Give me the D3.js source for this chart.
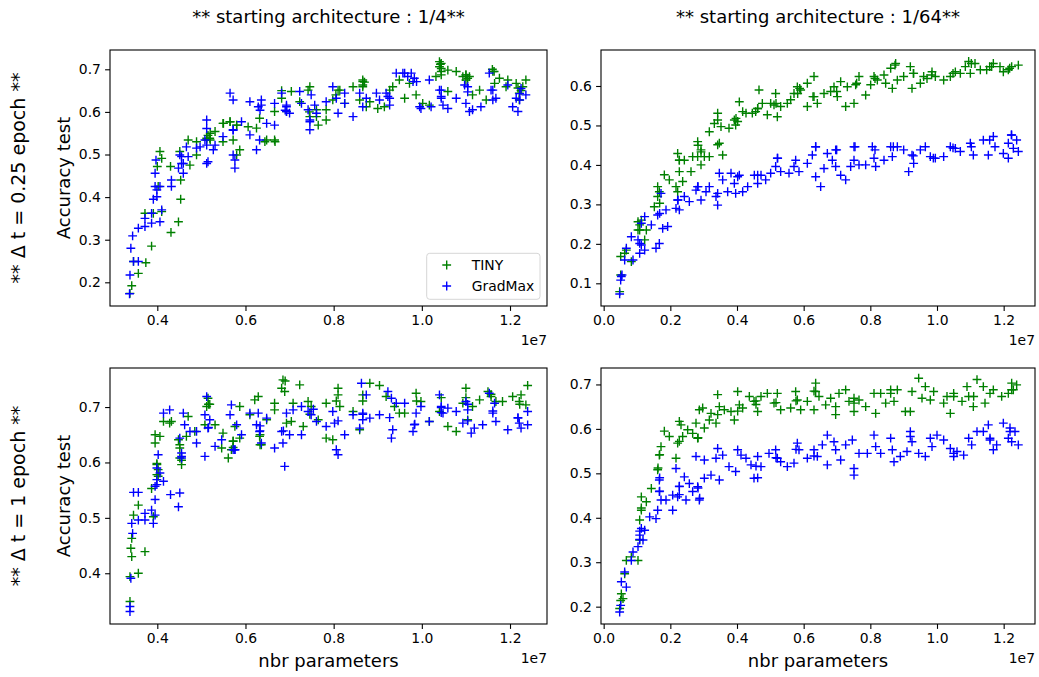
<!DOCTYPE html>
<html lang="en">
<head>
<meta charset="UTF-8">
<title>TINY vs GradMax</title>
<script src="https://cdnjs.cloudflare.com/ajax/libs/d3/7.8.5/d3.min.js"></script>
<style>
  body { margin: 0; background: #fff; }
  text { font-family: "DejaVu Sans", sans-serif; fill: #000; }
  .tick text { font-size: 13.9px; }
  .tick line { stroke: #000; stroke-width: 1.1px; }
  .domain { display: none; }
  .frame { fill: none; stroke: #000; stroke-width: 1.1px; }
  .plus { fill: none; stroke-width: 1.4px; }
</style>
</head>
<body>
<svg id="fig" width="1039" height="677"></svg>
<script>
// x = nbr parameters in units of 1e7, y = accuracy test

// starting architecture 1/4, dt = 0.25 epoch
const tinyQuarterFast = [
  [0.338,0.174],[0.342,0.192],[0.346,0.249],[0.357,0.221],[0.374,0.246],[0.387,0.285],[0.372,0.362],[0.391,0.362],
  [0.41,0.366],[0.402,0.425],[0.406,0.507],[0.41,0.491],[0.4,0.472],[0.43,0.472],[0.431,0.317],[0.448,0.342],
  [0.453,0.395],[0.453,0.44],[0.451,0.507],[0.47,0.534],[0.489,0.53],[0.489,0.499],[0.474,0.475],[0.512,0.534],
  [0.519,0.538],[0.531,0.554],[0.549,0.573],[0.549,0.53],[0.565,0.577],[0.572,0.534],[0.58,0.569],[0.587,0.511],
  [0.58,0.499],[0.606,0.565],[0.625,0.562],[0.632,0.585],[0.648,0.534],[0.666,0.534],[0.666,0.601],[0.682,0.632],
  [0.693,0.601],[0.704,0.648],[0.723,0.624],[0.742,0.651],[0.746,0.589],[0.765,0.569],[0.761,0.605],[0.783,0.581],
  [0.783,0.605],[0.798,0.628],[0.814,0.651],[0.825,0.62],[0.844,0.659],[0.866,0.675],[0.866,0.663],[0.859,0.628],
  [0.874,0.612],[0.882,0.624],[0.9,0.608],[0.915,0.612],[0.927,0.651],[0.934,0.659],[0.949,0.675],[0.961,0.632],
  [0.972,0.667],[0.987,0.64],[1.002,0.62],[1.017,0.616],[1.032,0.683],[1.04,0.718],[1.04,0.706],[1.044,0.695],
  [1.059,0.698],[1.059,0.648],[1.078,0.695],[1.093,0.683],[1.1,0.687],[1.108,0.683],[1.115,0.64],[1.131,0.651],
  [1.146,0.628],[1.161,0.695],[1.165,0.667],[1.176,0.679],[1.191,0.659],[1.195,0.675],[1.214,0.667],[1.221,0.644],
  [1.221,0.628],[1.236,0.675],[1.229,0.659],[0.515,0.545],[0.52,0.55],[0.87,0.67],[1.042,0.712],[1.1,0.675],
  [1.16,0.7],[1.225,0.65],[0.745,0.6],[0.805,0.64],
  [0.52,0.534],[0.512,0.538],[0.55,0.573],[0.565,0.577],[0.58,0.569],[0.644,0.53],[0.667,0.53],[0.746,0.659],
  [0.761,0.589],[0.682,0.65],[1.044,0.714],[1.044,0.702],[1.044,0.687],[1.1,0.687],[1.104,0.679],[1.164,0.695],
  [0.866,0.671],[0.866,0.659],[0.81,0.651],[1.218,0.656]
];
const gradmaxQuarterFast = [
  [0.337,0.173],[0.338,0.217],[0.34,0.28],[0.344,0.309],[0.346,0.249],[0.357,0.327],[0.357,0.249],[0.372,0.331],
  [0.372,0.35],[0.387,0.339],[0.387,0.362],[0.391,0.395],[0.395,0.425],[0.395,0.456],[0.397,0.487],[0.406,0.425],
  [0.406,0.342],[0.41,0.37],[0.432,0.425],[0.432,0.44],[0.448,0.468],[0.451,0.499],[0.455,0.479],[0.459,0.456],
  [0.466,0.518],[0.47,0.495],[0.489,0.515],[0.497,0.518],[0.508,0.534],[0.512,0.561],[0.512,0.581],[0.512,0.479],
  [0.515,0.483],[0.527,0.511],[0.531,0.522],[0.549,0.542],[0.565,0.644],[0.572,0.628],[0.572,0.558],[0.572,0.499],
  [0.576,0.468],[0.576,0.487],[0.591,0.577],[0.61,0.624],[0.61,0.546],[0.625,0.511],[0.629,0.612],[0.632,0.534],
  [0.636,0.628],[0.648,0.573],[0.666,0.62],[0.666,0.569],[0.682,0.644],[0.693,0.612],[0.693,0.601],[0.7,0.597],
  [0.723,0.648],[0.727,0.62],[0.742,0.605],[0.746,0.577],[0.746,0.558],[0.749,0.64],[0.757,0.616],[0.761,0.597],
  [0.783,0.624],[0.798,0.659],[0.806,0.632],[0.81,0.597],[0.825,0.62],[0.825,0.644],[0.844,0.589],[0.859,0.644],
  [0.866,0.612],[0.874,0.632],[0.897,0.644],[0.904,0.628],[0.919,0.644],[0.927,0.632],[0.927,0.616],[0.942,0.691],
  [0.957,0.691],[0.968,0.683],[0.976,0.691],[0.98,0.671],[0.983,0.679],[0.995,0.612],[0.998,0.608],[1.017,0.675],
  [1.021,0.612],[1.04,0.651],[1.044,0.632],[1.048,0.616],[1.059,0.608],[1.078,0.632],[1.097,0.663],[1.1,0.62],
  [1.108,0.601],[1.115,0.605],[1.134,0.612],[1.153,0.691],[1.161,0.651],[1.161,0.628],[1.168,0.632],[1.195,0.663],
  [1.206,0.612],[1.214,0.632],[1.218,0.601],[1.225,0.655],[1.236,0.64],
  [0.633,0.604],[0.636,0.616],[0.693,0.616],[0.69,0.604],[0.746,0.581],[0.455,0.495],[0.459,0.479],[0.512,0.522],
  [0.572,0.557],[0.399,0.417],[0.399,0.401],[0.961,0.691],[0.988,0.671],[1.044,0.651],[1.044,0.636],[1.104,0.659],
  [1.104,0.647],[1.157,0.651],[1.222,0.643],[1.222,0.628],[0.923,0.636]
];

// starting architecture 1/64, dt = 0.25 epoch
const tinySixtyFourFast = [
  [0.048,0.079],[0.051,0.121],[0.051,0.168],[0.063,0.176],[0.068,0.184],[0.083,0.155],[0.103,0.235],[0.103,0.256],
  [0.108,0.248],[0.113,0.26],[0.123,0.21],[0.128,0.235],[0.152,0.294],[0.162,0.345],[0.162,0.32],[0.167,0.332],
  [0.182,0.375],[0.197,0.362],[0.217,0.345],[0.222,0.332],[0.227,0.383],[0.222,0.429],[0.227,0.412],[0.242,0.412],
  [0.237,0.358],[0.262,0.383],[0.267,0.421],[0.282,0.459],[0.282,0.421],[0.292,0.438],[0.292,0.4],[0.302,0.421],
  [0.317,0.421],[0.317,0.484],[0.332,0.505],[0.342,0.531],[0.342,0.451],[0.347,0.455],[0.352,0.497],[0.357,0.425],
  [0.376,0.493],[0.392,0.514],[0.396,0.501],[0.407,0.56],[0.417,0.535],[0.427,0.531],[0.446,0.531],[0.456,0.535],
  [0.462,0.543],[0.466,0.59],[0.476,0.556],[0.491,0.527],[0.501,0.556],[0.511,0.552],[0.516,0.581],[0.521,0.522],
  [0.531,0.548],[0.551,0.556],[0.561,0.565],[0.571,0.581],[0.581,0.598],[0.591,0.59],[0.611,0.548],[0.611,0.607],
  [0.631,0.624],[0.631,0.573],[0.641,0.556],[0.661,0.581],[0.681,0.586],[0.691,0.598],[0.701,0.573],[0.711,0.611],
  [0.726,0.548],[0.731,0.598],[0.751,0.556],[0.756,0.603],[0.766,0.624],[0.786,0.577],[0.801,0.603],[0.811,0.624],
  [0.821,0.615],[0.841,0.628],[0.846,0.607],[0.861,0.645],[0.866,0.594],[0.876,0.657],[0.881,0.615],[0.9,0.624],
  [0.92,0.649],[0.925,0.594],[0.93,0.632],[0.95,0.607],[0.96,0.624],[0.97,0.619],[0.985,0.636],[0.995,0.624],
  [1.02,0.615],[1.04,0.624],[1.055,0.636],[1.07,0.632],[1.085,0.649],[1.095,0.662],[1.1,0.632],[1.114,0.657],
  [1.13,0.641],[1.149,0.641],[1.164,0.649],[1.169,0.657],[1.189,0.649],[1.199,0.636],[1.214,0.641],[1.224,0.649],
  [1.244,0.653],
  [0.582,0.581],[0.588,0.594],[0.628,0.573],[0.517,0.556],[0.462,0.543],[0.397,0.518],[0.402,0.51],[0.342,0.514],
  [0.283,0.45],[0.292,0.433],[0.227,0.412],[0.168,0.303],[0.108,0.235],[0.699,0.586],[0.759,0.607],[0.814,0.619],
  [0.874,0.653],[0.929,0.632],[0.984,0.628],[1.048,0.632],[1.103,0.657],[1.158,0.649],[1.218,0.645]
];
const gradmaxSixtyFourFast = [
  [0.048,0.073],[0.051,0.108],[0.055,0.121],[0.068,0.189],[0.063,0.159],[0.083,0.218],[0.088,0.159],[0.103,0.21],
  [0.108,0.176],[0.113,0.197],[0.123,0.269],[0.123,0.184],[0.143,0.248],[0.157,0.189],[0.167,0.201],[0.162,0.273],
  [0.172,0.328],[0.177,0.239],[0.187,0.286],[0.192,0.244],[0.217,0.29],[0.222,0.311],[0.227,0.286],[0.242,0.32],
  [0.257,0.307],[0.277,0.336],[0.282,0.345],[0.292,0.311],[0.307,0.332],[0.317,0.345],[0.337,0.32],[0.342,0.298],
  [0.347,0.379],[0.357,0.362],[0.372,0.332],[0.382,0.379],[0.392,0.353],[0.396,0.328],[0.407,0.374],[0.417,0.332],
  [0.432,0.345],[0.452,0.374],[0.462,0.353],[0.472,0.374],[0.486,0.362],[0.501,0.379],[0.516,0.396],[0.521,0.417],
  [0.531,0.383],[0.556,0.379],[0.571,0.396],[0.576,0.412],[0.586,0.383],[0.611,0.404],[0.626,0.425],[0.636,0.446],
  [0.636,0.37],[0.651,0.345],[0.661,0.391],[0.671,0.429],[0.686,0.412],[0.696,0.438],[0.696,0.396],[0.711,0.374],
  [0.726,0.362],[0.741,0.396],[0.751,0.446],[0.751,0.412],[0.766,0.4],[0.786,0.4],[0.806,0.446],[0.811,0.417],
  [0.816,0.396],[0.841,0.412],[0.861,0.446],[0.866,0.421],[0.881,0.446],[0.9,0.438],[0.915,0.383],[0.925,0.425],
  [0.93,0.404],[0.95,0.438],[0.965,0.446],[0.98,0.421],[0.995,0.417],[1.02,0.421],[1.04,0.446],[1.055,0.442],
  [1.07,0.434],[1.1,0.455],[1.109,0.425],[1.139,0.463],[1.154,0.425],[1.169,0.472],[1.174,0.446],[1.199,0.429],
  [1.214,0.455],[1.214,0.417],[1.224,0.476],[1.229,0.442],[1.239,0.463],[1.244,0.434],
  [0.636,0.446],[0.522,0.417],[0.462,0.374],[0.402,0.37],[0.342,0.328],[0.283,0.345],[0.223,0.311],[0.168,0.277],
  [0.113,0.252],[0.108,0.201],[0.053,0.117],[0.699,0.438],[0.754,0.446],[0.814,0.438],[0.869,0.446],[0.929,0.423],
  [0.989,0.417],[1.048,0.443],[1.103,0.446],[1.158,0.463],[1.223,0.476]
];

// starting architecture 1/4, dt = 1 epoch
const tinyQuarterSlow = [
  [0.338,0.349],[0.338,0.394],[0.342,0.43],[0.34,0.445],[0.342,0.463],[0.346,0.505],[0.357,0.523],[0.357,0.4],
  [0.372,0.439],[0.387,0.553],[0.391,0.502],[0.395,0.635],[0.395,0.65],[0.399,0.598],[0.402,0.587],[0.402,0.575],
  [0.406,0.647],[0.414,0.674],[0.432,0.674],[0.428,0.671],[0.448,0.641],[0.451,0.626],[0.455,0.604],[0.455,0.596],
  [0.466,0.647],[0.47,0.683],[0.485,0.656],[0.508,0.668],[0.512,0.701],[0.515,0.716],[0.519,0.705],[0.531,0.668],
  [0.546,0.626],[0.549,0.653],[0.561,0.608],[0.568,0.623],[0.572,0.638],[0.576,0.665],[0.587,0.701],[0.587,0.644],
  [0.61,0.686],[0.621,0.713],[0.629,0.719],[0.636,0.632],[0.632,0.647],[0.648,0.677],[0.666,0.707],[0.666,0.695],
  [0.682,0.734],[0.685,0.749],[0.689,0.728],[0.693,0.671],[0.704,0.674],[0.708,0.707],[0.723,0.74],[0.731,0.665],
  [0.742,0.71],[0.749,0.701],[0.765,0.677],[0.783,0.707],[0.783,0.644],[0.798,0.641],[0.81,0.734],[0.81,0.722],
  [0.814,0.701],[0.844,0.692],[0.859,0.659],[0.866,0.722],[0.882,0.743],[0.904,0.739],[0.919,0.719],[0.938,0.701],
  [0.949,0.689],[0.961,0.689],[0.987,0.725],[0.998,0.71],[1.017,0.674],[1.04,0.692],[1.059,0.665],[1.078,0.656],
  [1.093,0.707],[1.1,0.734],[1.104,0.677],[1.115,0.701],[1.131,0.713],[1.15,0.728],[1.157,0.719],[1.168,0.71],
  [1.183,0.71],[1.206,0.719],[1.221,0.71],[1.225,0.722],[1.236,0.704],[1.24,0.739],
  [0.399,0.578],[0.399,0.596],[0.451,0.632],[0.451,0.608],[0.572,0.639],[0.572,0.627],[0.633,0.65],[0.633,0.632],
  [0.516,0.705],[0.746,0.687],[0.69,0.747],[1.044,0.717],[1.1,0.717],[1.157,0.723],[1.222,0.705],[0.988,0.711],
  [0.866,0.711],[0.806,0.711]
];
const gradmaxQuarterSlow = [
  [0.338,0.331],[0.338,0.34],[0.34,0.391],[0.342,0.49],[0.344,0.472],[0.346,0.546],[0.357,0.546],[0.357,0.496],
  [0.372,0.496],[0.372,0.508],[0.387,0.514],[0.391,0.49],[0.395,0.505],[0.395,0.533],[0.395,0.557],[0.399,0.569],
  [0.399,0.59],[0.402,0.614],[0.406,0.581],[0.414,0.566],[0.414,0.689],[0.428,0.695],[0.43,0.542],[0.448,0.52],
  [0.451,0.545],[0.451,0.644],[0.455,0.611],[0.459,0.689],[0.462,0.668],[0.474,0.656],[0.489,0.635],[0.489,0.656],
  [0.508,0.686],[0.508,0.611],[0.512,0.719],[0.515,0.662],[0.519,0.677],[0.531,0.629],[0.546,0.641],[0.565,0.686],
  [0.568,0.704],[0.572,0.623],[0.576,0.623],[0.58,0.668],[0.591,0.65],[0.61,0.689],[0.625,0.668],[0.629,0.689],
  [0.632,0.656],[0.636,0.635],[0.648,0.68],[0.666,0.626],[0.682,0.656],[0.685,0.635],[0.689,0.593],[0.693,0.689],
  [0.7,0.65],[0.708,0.695],[0.727,0.65],[0.727,0.701],[0.742,0.692],[0.749,0.686],[0.761,0.674],[0.783,0.665],
  [0.798,0.692],[0.802,0.671],[0.806,0.623],[0.81,0.614],[0.825,0.65],[0.844,0.686],[0.859,0.662],[0.863,0.743],
  [0.866,0.689],[0.866,0.677],[0.874,0.722],[0.882,0.68],[0.904,0.686],[0.923,0.728],[0.931,0.716],[0.931,0.644],
  [0.934,0.659],[0.942,0.707],[0.961,0.707],[0.98,0.656],[0.983,0.668],[0.987,0.689],[0.998,0.701],[1.017,0.674],
  [1.04,0.722],[1.044,0.701],[1.048,0.689],[1.059,0.698],[1.078,0.692],[1.093,0.671],[1.1,0.71],[1.104,0.695],
  [1.112,0.653],[1.119,0.662],[1.138,0.668],[1.153,0.725],[1.161,0.689],[1.165,0.707],[1.168,0.674],[1.195,0.659],
  [1.218,0.68],[1.221,0.671],[1.225,0.662],[1.24,0.692],[1.24,0.668],
  [0.633,0.666],[0.633,0.657],[0.576,0.623],[0.455,0.617],[0.455,0.608],[0.516,0.663],[0.399,0.56],[0.754,0.696],
  [0.686,0.657],[1.044,0.699],[1.044,0.69],[1.104,0.705],[1.104,0.675],[1.161,0.693],[1.218,0.681],[0.984,0.669],
  [0.866,0.687],[0.81,0.675],[0.927,0.681]
];

// starting architecture 1/64, dt = 1 epoch
const tinySixtyFourSlow = [
  [0.048,0.196],[0.051,0.214],[0.053,0.229],[0.058,0.218],[0.063,0.274],[0.068,0.304],[0.083,0.312],[0.103,0.304],
  [0.108,0.35],[0.108,0.395],[0.113,0.447],[0.113,0.417],[0.128,0.436],[0.143,0.466],[0.162,0.508],[0.167,0.541],
  [0.172,0.56],[0.182,0.595],[0.197,0.583],[0.217,0.534],[0.222,0.568],[0.227,0.617],[0.232,0.609],[0.237,0.583],
  [0.252,0.598],[0.267,0.59],[0.277,0.613],[0.282,0.579],[0.287,0.643],[0.297,0.647],[0.302,0.602],[0.317,0.62],
  [0.322,0.635],[0.337,0.613],[0.342,0.677],[0.347,0.65],[0.362,0.643],[0.382,0.639],[0.392,0.62],[0.402,0.684],
  [0.407,0.654],[0.417,0.647],[0.437,0.673],[0.451,0.662],[0.462,0.639],[0.472,0.673],[0.491,0.68],[0.511,0.658],
  [0.521,0.68],[0.531,0.643],[0.561,0.647],[0.576,0.684],[0.581,0.665],[0.591,0.643],[0.611,0.662],[0.631,0.643],
  [0.636,0.703],[0.636,0.684],[0.646,0.673],[0.666,0.654],[0.681,0.669],[0.696,0.65],[0.696,0.632],[0.706,0.68],
  [0.726,0.688],[0.736,0.662],[0.751,0.669],[0.751,0.639],[0.766,0.665],[0.786,0.65],[0.811,0.68],[0.816,0.635],
  [0.831,0.68],[0.846,0.658],[0.861,0.688],[0.871,0.662],[0.881,0.688],[0.905,0.639],[0.92,0.639],[0.925,0.684],
  [0.945,0.714],[0.955,0.669],[0.965,0.695],[0.98,0.665],[0.99,0.684],[1.02,0.658],[1.03,0.673],[1.04,0.635],
  [1.05,0.68],[1.075,0.662],[1.09,0.695],[1.095,0.673],[1.109,0.65],[1.12,0.711],[1.139,0.695],[1.144,0.658],
  [1.159,0.68],[1.169,0.688],[1.194,0.673],[1.214,0.68],[1.224,0.703],[1.229,0.688],[1.239,0.699],
  [0.457,0.663],[0.457,0.655],[0.517,0.659],[0.577,0.663],[0.631,0.685],[0.342,0.632],[0.283,0.58],[0.227,0.572],
  [0.168,0.542],[0.163,0.512],[0.113,0.422],[0.402,0.64],[1.05,0.673],[1.11,0.673],[1.224,0.688],[0.861,0.68],
  [0.751,0.658]
];
const gradmaxSixtyFourSlow = [
  [0.048,0.188],[0.051,0.203],[0.053,0.256],[0.063,0.278],[0.068,0.244],[0.083,0.304],[0.088,0.323],[0.103,0.335],
  [0.108,0.361],[0.113,0.376],[0.118,0.35],[0.123,0.372],[0.138,0.402],[0.157,0.398],[0.162,0.417],[0.167,0.459],
  [0.167,0.485],[0.172,0.44],[0.187,0.44],[0.207,0.417],[0.207,0.451],[0.217,0.511],[0.222,0.447],[0.227,0.47],
  [0.242,0.492],[0.247,0.44],[0.257,0.477],[0.267,0.459],[0.277,0.538],[0.282,0.47],[0.287,0.44],[0.302,0.53],
  [0.302,0.489],[0.322,0.496],[0.337,0.534],[0.342,0.556],[0.347,0.485],[0.357,0.541],[0.376,0.515],[0.396,0.504],
  [0.402,0.553],[0.412,0.541],[0.427,0.534],[0.442,0.519],[0.451,0.489],[0.462,0.538],[0.472,0.515],[0.496,0.545],
  [0.516,0.553],[0.521,0.534],[0.531,0.526],[0.551,0.515],[0.571,0.523],[0.581,0.568],[0.586,0.553],[0.611,0.534],
  [0.631,0.553],[0.641,0.538],[0.656,0.564],[0.671,0.586],[0.671,0.519],[0.691,0.571],[0.696,0.553],[0.711,0.53],
  [0.726,0.564],[0.746,0.575],[0.751,0.511],[0.751,0.496],[0.766,0.545],[0.791,0.545],[0.811,0.586],[0.816,0.56],
  [0.831,0.545],[0.861,0.579],[0.866,0.553],[0.871,0.526],[0.89,0.538],[0.91,0.549],[0.92,0.594],[0.925,0.571],
  [0.945,0.545],[0.965,0.538],[0.98,0.579],[0.985,0.56],[1.0,0.586],[1.02,0.575],[1.04,0.556],[1.05,0.538],
  [1.06,0.549],[1.08,0.541],[1.095,0.579],[1.104,0.564],[1.12,0.594],[1.139,0.594],[1.154,0.609],[1.159,0.579],
  [1.169,0.553],[1.179,0.564],[1.199,0.613],[1.214,0.579],[1.219,0.602],[1.224,0.571],[1.234,0.594],[1.244,0.564],
  [0.168,0.49],[0.168,0.46],[0.227,0.471],[0.227,0.452],[0.283,0.467],[0.288,0.444],[0.457,0.516],[0.462,0.49],
  [0.517,0.535],[0.577,0.554],[0.631,0.539],[0.108,0.37],[0.108,0.351],[0.92,0.583],[1.05,0.545],[1.159,0.575],
  [1.219,0.594]
];

const seriesNames = ["TINY", "GradMax"];
const seriesColors = ["green", "blue"];
const colTitles = ["** starting architecture : 1/4**", "** starting architecture : 1/64**"];
const rowTitles = ["** \u0394 t = 0.25 epoch **", "** \u0394 t = 1 epoch **"];
const xTicksQuarter = [0.4, 0.6, 0.8, 1.0, 1.2];
const xTicksSixtyFour = [0.0, 0.2, 0.4, 0.6, 0.8, 1.0, 1.2];

const panels = [
  {row: 0, col: 0, series: [tinyQuarterFast, gradmaxQuarterFast], xd: [0.2927, 1.2839], yd: [0.1444, 0.7453],
   xt: xTicksQuarter, yt: [0.2, 0.3, 0.4, 0.5, 0.6, 0.7], legend: true},
  {row: 0, col: 1, series: [tinySixtyFourFast, gradmaxSixtyFourFast], xd: [-0.008, 1.294], yd: [0.0425, 0.6912],
   xt: xTicksSixtyFour, yt: [0.1, 0.2, 0.3, 0.4, 0.5, 0.6]},
  {row: 1, col: 0, series: [tinyQuarterSlow, gradmaxQuarterSlow], xd: [0.2927, 1.2839], yd: [0.3084, 0.7705],
   xt: xTicksQuarter, yt: [0.4, 0.5, 0.6, 0.7]},
  {row: 1, col: 1, series: [tinySixtyFourSlow, gradmaxSixtyFourSlow], xd: [-0.008, 1.294], yd: [0.161, 0.737],
   xt: xTicksSixtyFour, yt: [0.2, 0.3, 0.4, 0.5, 0.6, 0.7]}
];

const colX = [[110, 547], [601, 1035]];
const rowY = [[50, 306], [368, 624]];
const plusHalf = 4.4;

const svg = d3.select("#fig");
const fmt = d3.format(".1f");

panels.forEach(function (p) {
  const [x0, x1] = colX[p.col];
  const [y0, y1] = rowY[p.row];
  const x = d3.scaleLinear().domain(p.xd).range([x0, x1]);
  const y = d3.scaleLinear().domain(p.yd).range([y1, y0]);
  const g = svg.append("g");

  g.append("g")
    .attr("transform", `translate(0,${y1})`)
    .call(d3.axisBottom(x).tickValues(p.xt).tickFormat(fmt).tickSize(4.9).tickPadding(4.2));
  g.append("g")
    .attr("transform", `translate(${x0},0)`)
    .call(d3.axisLeft(y).tickValues(p.yt).tickFormat(fmt).tickSize(4.9).tickPadding(4.2));

  p.series.forEach(function (data, i) {
    g.append("g").selectAll("path")
      .data(data)
      .enter()
      .append("path")
      .attr("class", "plus")
      .attr("stroke", seriesColors[i])
      .attr("d", d => `M${x(d[0]) - plusHalf},${y(d[1])}h${2 * plusHalf}M${x(d[0])},${y(d[1]) - plusHalf}v${2 * plusHalf}`);
  });

  g.append("rect").attr("class", "frame")
    .attr("x", x0).attr("y", y0).attr("width", x1 - x0).attr("height", y1 - y0);

  // axis offset label
  g.append("text").attr("x", x1).attr("y", y1 + 39).attr("text-anchor", "end")
    .style("font-size", "13.9px").text("1e7");

  if (p.legend) {
    const lx = 426.7, ly = 253.3;
    const leg = g.append("g");
    leg.append("rect").attr("x", lx).attr("y", ly).attr("width", 113.3).attr("height", 46)
      .attr("rx", 3).attr("fill", "#fff").attr("fill-opacity", 0.8).attr("stroke", "#d6d6d6");
    seriesNames.forEach(function (name, i) {
      const cy = ly + 11.7 + i * 21;
      leg.append("path").attr("class", "plus").attr("stroke", seriesColors[i])
        .attr("d", `M${446.7 - plusHalf},${cy}h${2 * plusHalf}M446.7,${cy - plusHalf}v${2 * plusHalf}`);
      leg.append("text").attr("x", 471.7).attr("y", cy).attr("dy", "0.36em")
        .style("font-size", "13.9px").text(name);
    });
  }

  if (p.col === 0) {
    g.append("text")
      .attr("transform", `translate(70,${(y0 + y1) / 2}) rotate(-90)`)
      .attr("text-anchor", "middle").style("font-size", "18px").text("Accuracy test");
  }
  if (p.row === 1) {
    g.append("text").attr("x", (x0 + x1) / 2).attr("y", 667)
      .attr("text-anchor", "middle").style("font-size", "18px").text("nbr parameters");
  }
});

colTitles.forEach(function (t, i) {
  svg.append("text").attr("x", (colX[i][0] + colX[i][1]) / 2).attr("y", 23)
    .attr("text-anchor", "middle").style("font-size", "18px").text(t);
});
rowTitles.forEach(function (t, i) {
  svg.append("text")
    .attr("transform", `translate(25,${(rowY[i][0] + rowY[i][1]) / 2}) rotate(-90)`)
    .attr("text-anchor", "middle").style("font-size", "19px").text(t);
});
</script>
</body>
</html>
